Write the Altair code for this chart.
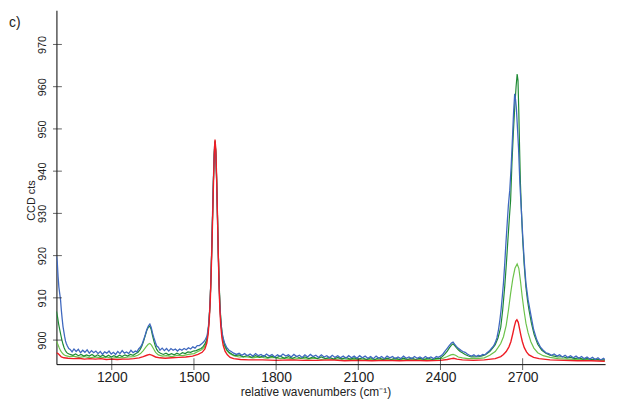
import altair as alt
import pandas as pd

# ---------------- data ----------------
blue_x = [998, 1001, 1004, 1007, 1010, 1013, 1016, 1019, 1022, 1025, 1028, 1031, 1034, 1038, 1043, 1048,
          1055, 1062, 1070, 1078, 1086, 1094, 1102, 1110, 1118, 1126, 1134, 1142, 1150, 1158, 1166, 1174,
          1182, 1190, 1198, 1206, 1214, 1222, 1230, 1238, 1246, 1254, 1262, 1270, 1278, 1286, 1292, 1298,
          1304, 1310, 1316, 1322, 1328, 1334, 1339, 1344, 1349, 1354, 1359, 1364, 1370, 1376, 1384, 1392,
          1400, 1408, 1416, 1424, 1432, 1440, 1448, 1456, 1464, 1472, 1480, 1488, 1496, 1504, 1512, 1520,
          1528, 1536, 1542, 1548, 1553, 1557, 1561, 1564, 1567, 1570, 1573, 1576, 1579, 1582, 1585, 1588,
          1591, 1594, 1597, 1601, 1606, 1612, 1620, 1628, 1636, 1645, 1655, 1665, 1675, 1685, 1695, 1705,
          1715, 1725, 1735, 1745, 1755, 1765, 1775, 1785, 1795, 1805, 1815, 1825, 1835, 1845, 1855, 1865,
          1875, 1885, 1895, 1905, 1915, 1925, 1935, 1945, 1955, 1965, 1975, 1985, 1995, 2005, 2015, 2025,
          2035, 2045, 2055, 2065, 2075, 2085, 2095, 2105, 2115, 2125, 2135, 2145, 2155, 2165, 2175, 2185,
          2195, 2205, 2215, 2225, 2235, 2245, 2255, 2265, 2275, 2285, 2295, 2305, 2315, 2325, 2335, 2345,
          2355, 2365, 2375, 2385, 2392, 2400, 2408, 2416, 2424, 2432, 2440, 2446, 2452, 2458, 2464, 2470,
          2476, 2482, 2490, 2498, 2506, 2514, 2522, 2530, 2538, 2546, 2554, 2562, 2570, 2578, 2586, 2594,
          2600, 2606, 2612, 2617, 2621, 2626, 2630, 2635, 2639, 2644, 2648, 2653, 2658, 2663, 2667, 2671,
          2674, 2677, 2680, 2685, 2690, 2695, 2700, 2706, 2712, 2720, 2729, 2740, 2752, 2765, 2775, 2785,
          2795, 2805, 2815, 2825, 2835, 2845, 2855, 2865, 2875, 2885, 2895, 2905, 2915, 2925, 2935, 2945,
          2955, 2965, 2975, 2985, 2995, 3000]
blue_y = [919.8, 918.5, 915.0, 912.5, 911.0, 909.5, 907.0, 905.0, 903.2, 902.0, 900.8, 899.8, 899.2, 898.6, 898.0, 897.8,
          897.2, 897.9, 897.3, 897.8, 897.0, 897.6, 897.1, 897.7, 896.9, 897.5, 897.0, 897.4, 896.8, 897.3, 896.6, 897.2,
          896.9, 897.4, 896.7, 897.1, 896.6, 897.3, 896.8, 897.5, 896.9, 897.2, 896.8, 897.6, 897.0, 897.4, 897.2, 897.9,
          898.3, 898.9, 900.0, 901.2, 902.5, 903.4, 903.8, 903.0, 901.6, 900.5, 899.5, 898.6, 898.3, 897.6, 898.1, 897.5,
          898.0, 897.4, 898.0, 897.6, 897.9, 897.4, 897.9, 897.6, 898.0, 897.7, 898.2, 897.9, 898.4, 898.1, 898.7, 898.7,
          899.1, 899.6, 900.2, 901.0, 903.3, 906.8, 912.5, 919.5, 927.5, 935.5, 942.5, 946.8, 945.0, 939.5, 931.5, 922.5,
          914.8, 909.2, 905.5, 902.5, 900.6, 899.3, 898.2, 897.6, 897.3, 896.9, 896.6, 896.9, 896.4, 896.8, 896.3, 896.7,
          896.2, 896.8, 896.3, 896.6, 896.1, 896.7, 896.2, 896.6, 896.0, 896.5, 896.1, 896.7, 896.2, 896.5, 896.0, 896.6,
          896.1, 896.4, 895.9, 896.5, 896.0, 896.6, 896.1, 896.4, 895.9, 896.5, 896.0, 896.3, 895.8, 896.4, 895.9, 896.3,
          895.8, 896.2, 895.7, 896.3, 895.8, 896.2, 895.7, 896.3, 895.8, 896.2, 895.7, 896.1, 895.6, 896.2, 895.7, 896.1,
          895.6, 896.2, 895.8, 896.1, 895.6, 896.0, 895.6, 896.2, 895.7, 896.0, 895.6, 896.1, 895.7, 896.0, 895.6, 896.1,
          895.7, 896.0, 895.6, 896.1, 895.9, 896.2, 896.6, 897.3, 898.0, 898.7, 899.3, 899.5, 899.0, 898.5, 898.1, 897.8,
          897.5, 897.3, 897.1, 896.7, 896.4, 896.2, 896.5, 896.1, 896.4, 896.2, 896.6, 896.5, 897.0, 897.4, 898.0, 898.6,
          899.4, 900.5, 902.5, 904.8, 907.0, 910.5, 913.5, 918.5, 923.0, 928.0, 932.0, 935.5, 941.0, 948.0, 954.0, 958.3,
          957.0, 955.0, 951.5, 945.5, 937.0, 931.0, 925.0, 918.5, 913.5, 909.5, 906.3, 902.5, 900.0, 898.3, 897.6, 897.0,
          896.8, 896.4, 896.7, 896.2, 896.5, 896.0, 896.4, 895.9, 896.3, 895.8, 896.2, 895.7, 896.1, 895.6, 896.0, 895.5,
          895.9, 895.4, 895.8, 895.3, 895.7, 895.4]

dgreen_x = [998, 1002, 1006, 1010, 1014, 1018, 1022, 1026, 1030, 1035, 1040, 1048, 1058, 1068, 1078, 1088,
            1098, 1108, 1118, 1128, 1138, 1148, 1158, 1168, 1178, 1188, 1198, 1208, 1218, 1228, 1238, 1248,
            1258, 1268, 1278, 1288, 1296, 1304, 1310, 1316, 1322, 1328, 1334, 1339, 1344, 1349, 1354, 1359,
            1364, 1370, 1378, 1388, 1398, 1408, 1418, 1428, 1438, 1448, 1458, 1468, 1478, 1488, 1498, 1508,
            1518, 1526, 1534, 1540, 1546, 1551, 1555, 1559, 1562, 1565, 1568, 1571, 1574, 1577, 1580, 1583,
            1586, 1589, 1592, 1595, 1598, 1602, 1607, 1613, 1620, 1628, 1638, 1650, 1665, 1680, 1695, 1710,
            1725, 1740, 1755, 1770, 1785, 1800, 1815, 1830, 1845, 1860, 1875, 1890, 1905, 1920, 1935, 1950,
            1965, 1980, 1995, 2010, 2025, 2040, 2055, 2070, 2085, 2100, 2115, 2130, 2145, 2160, 2175, 2190,
            2205, 2220, 2235, 2250, 2265, 2280, 2295, 2310, 2325, 2340, 2355, 2370, 2385, 2395, 2405, 2415,
            2425, 2433, 2440, 2446, 2452, 2458, 2465, 2472, 2480, 2490, 2500, 2512, 2525, 2540, 2555, 2565,
            2580, 2592, 2600, 2610, 2620, 2627, 2635, 2641, 2646, 2651, 2656, 2661, 2666, 2671, 2676, 2680,
            2683, 2686, 2689, 2692, 2696, 2700, 2706, 2712, 2718, 2723, 2732, 2742, 2755, 2770, 2785, 2800,
            2815, 2830, 2845, 2860, 2875, 2890, 2905, 2920, 2935, 2950, 2965, 2980, 3000]
dgreen_y = [906.8, 905.5, 903.8, 902.5, 901.2, 900.0, 899.0, 898.2, 897.6, 897.1, 896.8, 896.6, 896.4, 896.7, 896.3, 896.6,
            896.2, 896.5, 896.2, 896.6, 896.1, 896.5, 896.1, 896.4, 896.0, 896.4, 896.0, 896.3, 896.0, 896.4, 896.1, 896.5,
            896.2, 896.6, 896.4, 896.8, 897.1, 897.8, 898.6, 899.7, 901.0, 902.3, 903.1, 903.3, 902.5, 901.0, 899.7, 898.6,
            897.8, 897.2, 896.9, 896.6, 896.9, 896.5, 896.8, 896.5, 896.9, 896.6, 897.0, 896.8, 897.2, 897.1, 897.4, 897.5,
            897.8, 898.0, 898.5, 899.1, 900.0, 901.8, 904.5, 909.0, 914.5, 921.5, 929.5, 937.5, 944.0, 947.0, 944.0, 937.5,
            929.0, 920.5, 913.5, 908.5, 905.0, 902.0, 900.0, 898.7, 897.7, 897.1, 896.7, 896.3, 896.5, 896.0, 896.4, 895.9,
            896.3, 895.9, 896.3, 895.8, 896.2, 895.8, 896.2, 895.7, 896.1, 895.7, 896.1, 895.7, 896.0, 895.6, 896.0, 895.6,
            896.0, 895.6, 895.9, 895.5, 895.9, 895.5, 895.9, 895.5, 895.8, 895.5, 895.8, 895.4, 895.8, 895.4, 895.8, 895.4,
            895.7, 895.4, 895.7, 895.4, 895.7, 895.4, 895.7, 895.4, 895.7, 895.4, 895.7, 895.4, 895.7, 895.6, 896.0, 896.6,
            897.4, 898.2, 898.8, 899.1, 898.7, 898.2, 897.7, 897.3, 897.0, 896.6, 896.3, 896.0, 896.0, 896.1, 896.3, 896.6,
            897.3, 898.2, 898.9, 900.5, 903.0, 907.0, 913.0, 918.5, 923.5, 928.5, 933.0, 942.0, 949.0, 955.0, 960.0, 963.0,
            961.5, 954.0, 945.0, 937.0, 930.0, 924.0, 917.5, 912.5, 909.3, 907.2, 904.0, 901.3, 899.0, 897.6, 896.9, 896.4,
            896.2, 896.0, 896.1, 895.8, 895.9, 895.6, 895.8, 895.5, 895.6, 895.4, 895.5, 895.3, 895.3]

lgreen_x = [998, 1003, 1008, 1013, 1018, 1024, 1032, 1045, 1060, 1080, 1100, 1120, 1140, 1160, 1180, 1200,
            1220, 1240, 1260, 1280, 1295, 1305, 1315, 1325, 1333, 1339, 1345, 1352, 1360, 1370, 1385, 1400,
            1420, 1440, 1460, 1480, 1500, 1515, 1528, 1538, 1546, 1551, 1555, 1559, 1562, 1565, 1568, 1571,
            1574, 1577, 1580, 1583, 1586, 1589, 1592, 1595, 1598, 1602, 1607, 1613, 1620, 1630, 1645, 1665,
            1690, 1715, 1740, 1765, 1790, 1815, 1840, 1865, 1890, 1915, 1940, 1965, 1990, 2015, 2040, 2065,
            2090, 2115, 2140, 2165, 2190, 2215, 2240, 2265, 2290, 2315, 2340, 2365, 2390, 2410, 2425, 2438,
            2446, 2455, 2465, 2480, 2500, 2530, 2560, 2580, 2600, 2610, 2620, 2630, 2640, 2648, 2656, 2664,
            2672, 2680, 2686, 2692, 2698, 2705, 2712, 2720, 2730, 2741, 2755, 2775, 2800, 2830, 2860, 2890,
            2920, 2950, 2980, 3000]
lgreen_y = [899.8, 899.0, 898.2, 897.5, 897.0, 896.6, 896.3, 896.1, 896.2, 895.9, 896.1, 895.8, 896.0, 895.8, 896.0, 895.7,
            895.9, 895.8, 896.0, 896.1, 896.4, 896.8, 897.5, 898.4, 899.0, 899.2, 898.8, 898.0, 897.1, 896.5, 896.2, 896.3,
            896.1, 896.4, 896.3, 896.6, 896.8, 897.3, 897.7, 898.3, 899.6, 901.5, 904.3, 908.8, 914.5, 921.5, 929.5, 937.5,
            944.0, 947.2, 944.5, 938.0, 929.5, 920.5, 913.0, 908.0, 904.6, 901.7, 899.7, 898.4, 897.5, 896.8, 896.3, 896.0,
            896.1, 895.8, 896.0, 895.7, 895.9, 895.6, 895.8, 895.5, 895.7, 895.5, 895.7, 895.4, 895.6, 895.4, 895.6, 895.4,
            895.5, 895.3, 895.5, 895.3, 895.5, 895.3, 895.5, 895.3, 895.5, 895.3, 895.5, 895.3, 895.5, 895.7, 896.1, 896.5,
            896.6, 896.4, 896.0, 895.8, 895.6, 895.6, 895.8, 896.4, 897.3, 898.2, 899.2, 900.8, 903.5, 907.0, 911.0, 914.5,
            917.0, 918.0, 917.0, 914.0, 910.5, 907.0, 904.0, 901.7, 899.6, 898.1, 897.0, 896.3, 895.9, 895.6, 895.5, 895.4,
            895.4, 895.3, 895.3, 895.2]

red_x = [998, 1004, 1010, 1016, 1025, 1040, 1060, 1080, 1100, 1120, 1140, 1160, 1180, 1200, 1220, 1240,
         1260, 1280, 1300, 1315, 1328, 1338, 1348, 1360, 1375, 1395, 1420, 1445, 1470, 1495, 1515, 1530,
         1540, 1547, 1552, 1556, 1560, 1563, 1566, 1569, 1572, 1575, 1577, 1580, 1583, 1586, 1589, 1592,
         1595, 1598, 1602, 1607, 1614, 1622, 1632, 1645, 1670, 1700, 1750, 1800, 1850, 1900, 1950, 2000,
         2050, 2100, 2150, 2200, 2250, 2300, 2350, 2400, 2425, 2440, 2448, 2460, 2480, 2520, 2560, 2600,
         2620, 2630, 2640, 2650, 2657, 2664, 2670, 2675, 2679, 2684, 2689, 2694, 2699, 2706, 2714, 2723,
         2740, 2760, 2800, 2850, 2900, 2950, 3000]
red_y = [897.0, 896.8, 896.4, 896.0, 895.8, 895.7, 895.6, 895.7, 895.5, 895.6, 895.5, 895.6, 895.4, 895.5, 895.4, 895.5,
         895.5, 895.6, 895.8, 896.1, 896.4, 896.6, 896.4, 896.0, 895.8, 895.7, 895.8, 895.9, 896.0, 896.2, 896.6, 897.1,
         897.9, 899.3, 901.5, 904.8, 910.0, 916.0, 923.0, 931.0, 939.0, 945.5, 947.5, 945.0, 938.0, 929.0, 920.0, 912.0,
         906.8, 903.4, 900.6, 898.7, 897.3, 896.5, 895.9, 895.6, 895.4, 895.3, 895.3, 895.2, 895.3, 895.2, 895.2, 895.3,
         895.1, 895.2, 895.1, 895.2, 895.1, 895.2, 895.1, 895.2, 895.4, 895.6, 895.7, 895.5, 895.3, 895.2, 895.3, 895.6,
         896.1, 896.6, 897.3, 898.4, 899.6, 901.5, 903.3, 904.5, 904.8, 904.2, 902.6, 901.0, 899.6, 898.2, 897.2, 896.5,
         895.9, 895.6, 895.3, 895.2, 895.1, 895.1, 895.0]

x_ticks = [1200, 1500, 1800, 2100, 2400, 2700]
y_ticks = [900, 910, 920, 930, 940, 950, 960, 970]
x_domain = [998, 3001]
y_domain = [894.3, 978.1]

# ---------------- chart ----------------
W, H = 555, 358
FONT = "Liberation Sans"

xs = alt.Scale(domain=x_domain, nice=False, zero=False)
ys = alt.Scale(domain=y_domain, nice=False, zero=False)

x_axis = alt.Axis(values=x_ticks, format="d", title="relative wavenumbers (cm\u207b\u00b9)",
                  ticks=False, tickSize=0, labelPadding=7, labelFontSize=14, labelColor="#222",
                  labelFont=FONT, titleFont=FONT,
                  titleFontSize=12, titleFontWeight="normal", titleColor="#222",
                  titleX=262, titlePadding=2, grid=False, domainColor="#000", domainWidth=1)
y_axis = alt.Axis(values=y_ticks, format="d", title="CCD cts",
                  ticks=False, tickSize=0, labelPadding=9, labelFontSize=11, labelAngle=270,
                  labelFont=FONT, titleFont=FONT,
                  labelColor="#222", titleFontSize=11, titleFontWeight="normal", titleColor="#222",
                  titleX=-25, titleY=192, titleAngle=270, titleBaseline="middle", titleAlign="center",
                  grid=False, domainColor="#000", domainWidth=1)

X = alt.X("x:Q", scale=xs, axis=x_axis)
Y = alt.Y("y:Q", scale=ys, axis=y_axis)


def line(xv, yv, color, w=1.2):
    df = pd.DataFrame({"x": xv, "y": yv})
    return alt.Chart(df).mark_line(color=color, strokeWidth=w, clip=True).encode(x=X, y=Y)


lg = line(lgreen_x, lgreen_y, "#6cc24a")
dg = line(dgreen_x, dgreen_y, "#1e8a34")
bl = line(blue_x, blue_y, "#3f68bf", 1.3)
rd = line(red_x, red_y, "#ee1d25", 1.4)

yt = alt.Chart(pd.DataFrame({"y": y_ticks})).mark_tick(
    color="#222", size=9, thickness=1, orient="horizontal").encode(y=Y, x=alt.value(1))
xt = alt.Chart(pd.DataFrame({"x": x_ticks})).mark_tick(
    color="#222", size=12, thickness=1, orient="vertical").encode(x=X, y=alt.value(H))
lab = alt.Chart(pd.DataFrame({"t": ["c)"]})).mark_text(
    font=FONT, fontSize=14, color="#222", align="left", baseline="middle").encode(
    text="t:N", x=alt.value(-48), y=alt.value(13))

chart = alt.layer(lg, dg, bl, rd, yt, xt, lab).properties(
    width=W, height=H,
    autosize=alt.AutoSizeParams(type="none"),
    padding={"left": 49, "top": 0, "right": 8, "bottom": 34},
).configure(font=FONT, view=alt.ViewConfig(stroke=None))

chart.save("out.html", embed_options={"renderer": "svg", "actions": False})
